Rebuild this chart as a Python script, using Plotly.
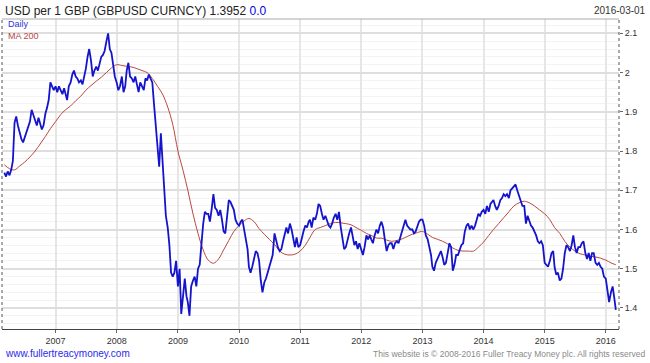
import plotly.graph_objects as go

# ---------------- data ----------------
# Daily GBPUSD, sampled on the 1st, 11th and 21st of each month
d2006 = [1.745, 1.735, 1.748, 1.738, 1.752, 1.775, 1.872, 1.888, 1.865,
         1.846, 1.830, 1.822, 1.835, 1.850, 1.862, 1.875, 1.905, 1.890,
         1.880, 1.865, 1.885, 1.870, 1.855, 1.865, 1.895, 1.910, 1.930,
         1.975, 1.965, 1.955]  # Mar-Dec
d2007 = [1.965, 1.950, 1.965, 1.955, 1.945, 1.960, 1.945, 1.930, 1.965,
         1.975, 1.995, 2.005, 1.990, 1.985, 1.975, 1.980, 1.970, 1.990,
         2.010, 2.040, 2.060, 2.030, 1.990, 2.005, 2.015, 2.005, 2.025,
         2.040, 2.045, 2.055, 2.080, 2.100, 2.060, 2.050, 2.020, 1.990]
d2008 = [1.975, 1.955, 1.965, 1.990, 1.950, 1.965, 2.005, 2.025, 1.990,
         1.985, 1.975, 1.990, 1.970, 1.950, 1.975, 1.965, 1.955, 1.985,
         1.980, 1.995, 1.985, 1.975, 1.920, 1.865, 1.825, 1.760, 1.845,
         1.780, 1.720, 1.635, 1.605, 1.560, 1.490, 1.480, 1.490, 1.520]
d2009 = [1.455, 1.500, 1.385, 1.435, 1.475, 1.430, 1.415, 1.380, 1.455,
         1.470, 1.480, 1.455, 1.500, 1.510, 1.565, 1.615, 1.645, 1.640,
         1.640, 1.620, 1.650, 1.690, 1.655, 1.650, 1.635, 1.650, 1.625,
         1.595, 1.590, 1.640, 1.675, 1.670, 1.660, 1.650, 1.625, 1.615]
d2010 = [1.610, 1.620, 1.625, 1.595, 1.565, 1.550, 1.505, 1.490, 1.505,
         1.525, 1.545, 1.540, 1.520, 1.470, 1.440, 1.465, 1.475, 1.490,
         1.505, 1.520, 1.535, 1.590, 1.570, 1.555, 1.545, 1.550, 1.570,
         1.590, 1.605, 1.590, 1.615, 1.600, 1.575, 1.555, 1.580, 1.555]
d2011 = [1.560, 1.580, 1.595, 1.610, 1.605, 1.620, 1.625, 1.605, 1.630,
         1.625, 1.640, 1.665, 1.660, 1.640, 1.625, 1.635, 1.620, 1.610,
         1.605, 1.615, 1.630, 1.640, 1.625, 1.645, 1.605, 1.575, 1.550,
         1.555, 1.575, 1.590, 1.605, 1.585, 1.560, 1.570, 1.550, 1.565]
d2012 = [1.550, 1.535, 1.555, 1.585, 1.575, 1.585, 1.575, 1.565, 1.585,
         1.600, 1.590, 1.610, 1.620, 1.605, 1.575, 1.545, 1.560, 1.565,
         1.565, 1.550, 1.565, 1.570, 1.565, 1.580, 1.590, 1.610, 1.625,
         1.610, 1.605, 1.600, 1.600, 1.590, 1.595, 1.610, 1.620, 1.625]
d2013 = [1.625, 1.610, 1.585, 1.575, 1.555, 1.535, 1.505, 1.495, 1.515,
         1.525, 1.535, 1.545, 1.530, 1.510, 1.515, 1.540, 1.565, 1.555,
         1.495, 1.510, 1.535, 1.535, 1.550, 1.560, 1.565, 1.595, 1.610,
         1.615, 1.600, 1.610, 1.600, 1.610, 1.625, 1.640, 1.635, 1.645]
d2014 = [1.650, 1.640, 1.660, 1.645, 1.665, 1.670, 1.675, 1.660, 1.650,
         1.660, 1.675, 1.680, 1.690, 1.685, 1.690, 1.680, 1.700, 1.705,
         1.710, 1.715, 1.700, 1.685, 1.670, 1.660, 1.660, 1.615, 1.635,
         1.620, 1.610, 1.605, 1.595, 1.585, 1.570, 1.565, 1.570, 1.560]
d2015 = [1.515, 1.510, 1.505, 1.520, 1.540, 1.545, 1.505, 1.485, 1.490,
         1.470, 1.475, 1.500, 1.540, 1.560, 1.555, 1.545, 1.560, 1.585,
         1.555, 1.540, 1.555, 1.555, 1.565, 1.570, 1.540, 1.525, 1.540,
         1.520, 1.540, 1.540, 1.515, 1.510, 1.515, 1.505, 1.500, 1.480]
d2016 = [1.475, 1.445, 1.415, 1.440, 1.455, 1.425, 1.3952]  # Jan-Feb + Mar 1

# 200-day moving average, monthly (1st of month), Mar 2006 - Mar 2016
ma2006 = [1.765, 1.755, 1.752, 1.762, 1.772, 1.785, 1.800, 1.818, 1.837, 1.857]
ma2007 = [1.875, 1.893, 1.905, 1.915, 1.928, 1.940, 1.955, 1.967, 1.978, 1.988, 2.000, 2.012]
ma2008 = [2.020, 2.018, 2.016, 2.014, 2.010, 2.005, 2.000, 1.985, 1.965, 1.945, 1.912, 1.868]
ma2009 = [1.800, 1.750, 1.700, 1.640, 1.590, 1.548, 1.522, 1.514, 1.525, 1.548, 1.572, 1.595]
ma2010 = [1.610, 1.622, 1.628, 1.620, 1.602, 1.588, 1.575, 1.562, 1.545, 1.537, 1.535, 1.537]
ma2011 = [1.545, 1.560, 1.580, 1.600, 1.605, 1.610, 1.615, 1.618, 1.617, 1.615, 1.612, 1.605]
ma2012 = [1.598, 1.590, 1.585, 1.578, 1.578, 1.573, 1.570, 1.572, 1.576, 1.582, 1.588, 1.592]
ma2013 = [1.595, 1.588, 1.580, 1.575, 1.570, 1.563, 1.553, 1.547, 1.545, 1.545, 1.545, 1.555]
ma2014 = [1.568, 1.585, 1.600, 1.615, 1.630, 1.645, 1.660, 1.668, 1.672, 1.668, 1.660, 1.650]
ma2015 = [1.640, 1.625, 1.605, 1.590, 1.570, 1.555, 1.545, 1.538, 1.535, 1.532, 1.530, 1.527]
ma2016 = [1.522, 1.515, 1.510]

year_ticks = ["2007", "2008", "2009", "2010", "2011", "2012", "2013", "2014", "2015", "2016"]

# ---------------- assemble dates ----------------
daily_blocks = [(2006, 3, d2006), (2007, 1, d2007), (2008, 1, d2008), (2009, 1, d2009),
                (2010, 1, d2010), (2011, 1, d2011), (2012, 1, d2012), (2013, 1, d2013),
                (2014, 1, d2014), (2015, 1, d2015)]
dx, dy = [], []
for yr, m0, vals in daily_blocks:
    i = 0
    for m in range(m0, 13):
        for day in (1, 11, 21):
            dx.append(f"{yr}-{m:02d}-{day:02d}")
            dy.append(vals[i])
            i += 1
for k, day in enumerate(["2016-01-01", "2016-01-11", "2016-01-21",
                         "2016-02-01", "2016-02-11", "2016-02-21", "2016-03-01"]):
    dx.append(day)
    dy.append(d2016[k])

ma_blocks = [(2006, 3, ma2006), (2007, 1, ma2007), (2008, 1, ma2008), (2009, 1, ma2009),
             (2010, 1, ma2010), (2011, 1, ma2011), (2012, 1, ma2012), (2013, 1, ma2013),
             (2014, 1, ma2014), (2015, 1, ma2015), (2016, 1, ma2016)]
mx, my = [], []
for yr, m0, vals in ma_blocks:
    for i, v in enumerate(vals):
        mx.append(f"{yr}-{m0 + i:02d}-01")
        my.append(v)

# ---------------- figure ----------------
fig = go.Figure()
fig.add_trace(go.Scatter(x=mx, y=my, mode="lines", name="MA 200",
                         line=dict(color="#b8483f", width=1, shape="spline"),
                         hoverinfo="skip"))
fig.add_trace(go.Scatter(x=dx, y=dy, mode="lines", name="Daily",
                         line=dict(color="#1414cc", width=1.8)))

FONT = "Liberation Sans, Arial, sans-serif"

fig.update_layout(
    width=650, height=363,
    margin=dict(l=2, r=31, t=19, b=34),
    paper_bgcolor="white", plot_bgcolor="white",
    showlegend=False,
    font=dict(family=FONT, size=9, color="#333"),
    xaxis=dict(
        type="date", range=["2006-02-15", "2016-03-20"],
        tickvals=[f"{y}-01-01" for y in year_ticks], ticktext=year_ticks,
        showgrid=True, gridcolor="#e6e6e6", gridwidth=2,
        showline=True, linecolor="#444", linewidth=1,
        ticks="outside", ticklen=3, tickcolor="#666",
        tickfont=dict(size=9, color="#333"),
        zeroline=False, automargin=False,
    ),
    yaxis=dict(
        side="right", range=[1.3464, 2.1365],
        tick0=1.4, dtick=0.1,
        showgrid=True, gridcolor="#dedede", gridwidth=1.5,
        minor=dict(dtick=0.02, showgrid=True, gridcolor="#f3f3f3", gridwidth=1),
        ticks="outside", ticklen=3, tickcolor="#666",
        tickfont=dict(size=9, color="#333"),
        zeroline=False, automargin=False, showline=False,
    ),
    shapes=[
        dict(type="line", xref="paper", yref="paper", x0=0, x1=0, y0=0, y1=1,
             line=dict(color="#555", width=1, dash="dot")),
        dict(type="line", xref="paper", yref="paper", x0=1, x1=1, y0=0, y1=1,
             line=dict(color="#555", width=1, dash="dot")),
        dict(type="line", xref="paper", yref="paper", x0=0, x1=1, y0=1, y1=1,
             line=dict(color="#aaa", width=1)),
    ],
    annotations=[
        dict(xref="paper", yref="paper", x=0.0016, y=1.0258, xanchor="left", yanchor="middle",
             showarrow=False, font=dict(family=FONT, size=12, color="#222"),
             text="USD per 1 GBP (GBPUSD CURNCY) 1.3952 <span style='color:#0000ee'>0.0</span>"),
        dict(xref="paper", yref="paper", x=1.047, y=1.029, xanchor="right", yanchor="middle",
             showarrow=False, font=dict(family=FONT, size=10, color="#333"),
             text="2016-03-01"),
        dict(xref="paper", yref="paper", x=0.0065, y=0.984, xanchor="left", yanchor="middle",
             showarrow=False, font=dict(family=FONT, size=9, color="#3333dd"),
             text="Daily"),
        dict(xref="paper", yref="paper", x=0.0065, y=0.945, xanchor="left", yanchor="middle",
             showarrow=False, font=dict(family=FONT, size=9, color="#b8483f"),
             text="MA 200"),
        dict(xref="paper", yref="paper", x=0.0016, y=-0.0806, xanchor="left", yanchor="middle",
             showarrow=False, font=dict(family=FONT, size=10, color="#2a2aee"),
             text="www.fullertreacymoney.com"),
        dict(xref="paper", yref="paper", x=1.047, y=-0.0806, xanchor="right", yanchor="middle",
             showarrow=False, font=dict(family=FONT, size=8.5, color="#8a8a8a"),
             text="This website is © 2008-2016 Fuller Treacy Money plc. All rights reserved"),
    ],
)

fig.write_html("out.html", config={"displayModeBar": False},
               post_script="document.body.style.margin='0';document.body.style.overflow='hidden';")
